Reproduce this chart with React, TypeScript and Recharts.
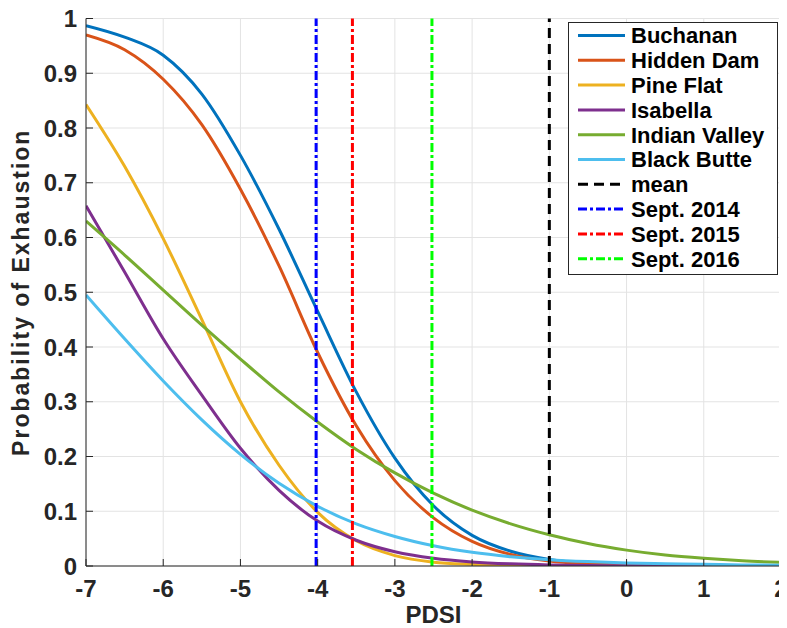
import React from 'react';
import { LineChart, Line, XAxis, YAxis, CartesianGrid, ReferenceLine, Legend } from 'recharts';

// PDSI sample points
const pdsi = [-7, -6.5, -6, -5.5, -5, -4.5, -4, -3.5, -3, -2.5, -2, -1.5, -1, -0.5, 0, 0.5, 1, 1.5, 2];

// Probability of exhaustion per reservoir
const buchanan = [0.987, 0.966, 0.933, 0.862, 0.75, 0.615, 0.465, 0.318, 0.197, 0.11, 0.056, 0.027, 0.012, 0.005, 0.002, 0.001, 0.0005, 0.0002, 0.0001];
const hiddenDam = [0.97, 0.943, 0.889, 0.806, 0.688, 0.548, 0.39, 0.256, 0.156, 0.088, 0.045, 0.021, 0.009, 0.004, 0.0015, 0.0006, 0.0002, 0.0001, 0];
const pineFlat = [0.843, 0.73, 0.598, 0.45, 0.3, 0.184, 0.098, 0.046, 0.019, 0.007, 0.003, 0.001, 0.0005, 0.0002, 0.0001, 0, 0, 0, 0];
const isabella = [0.658, 0.537, 0.415, 0.312, 0.215, 0.138, 0.082, 0.047, 0.026, 0.014, 0.0075, 0.004, 0.002, 0.001, 0.0005, 0.0003, 0.0002, 0.0001, 0];
const indianValley = [0.63, 0.568, 0.504, 0.44, 0.378, 0.318, 0.263, 0.213, 0.17, 0.133, 0.102, 0.077, 0.057, 0.041, 0.029, 0.02, 0.014, 0.0095, 0.0065];
const blackButte = [0.495, 0.415, 0.338, 0.267, 0.204, 0.151, 0.109, 0.077, 0.054, 0.037, 0.025, 0.017, 0.0115, 0.008, 0.0055, 0.004, 0.003, 0.002, 0.0015];

const seriesNames = ['Buchanan', 'Hidden Dam', 'Pine Flat', 'Isabella', 'Indian Valley', 'Black Butte'];
const seriesValues = [buchanan, hiddenDam, pineFlat, isabella, indianValley, blackButte];
const seriesColors = ['#0072BD', '#D95319', '#EDB120', '#7E2F8E', '#77AC30', '#4DBEEE'];

// Vertical reference lines
const markerNames = ['mean', 'Sept. 2014', 'Sept. 2015', 'Sept. 2016'];
const markerValues = [-1, -4.02, -3.55, -2.52];
const markerColors = ['#000000', '#0000FF', '#FF0000', '#00FF00'];
const markerDashes = ['10 6', '9 3 3 3', '9 3 3 3', '9 3 3 3'];

const xTicks = [-7, -6, -5, -4, -3, -2, -1, 0, 1, 2];
const yTicks = [0, 0.1, 0.2, 0.3, 0.4, 0.5, 0.6, 0.7, 0.8, 0.9, 1];

const data = pdsi.map((x, i) => {
  const row: Record<string, number> = { pdsi: x };
  seriesValues.forEach((vals, k) => {
    row['s' + k] = vals[i];
  });
  return row;
});

const FONT = "'Liberation Sans', Arial, Helvetica, sans-serif";
const AXIS = '#262626';
const TICK_LEN = 7;

const BottomTick = (props: any) => {
  const { x, y, payload } = props;
  return (
    <g>
      <line x1={x} x2={x} y1={y - 14} y2={y - 14 - TICK_LEN} stroke={AXIS} strokeWidth={1} />
      <text x={x} y={y} dy="0.71em" textAnchor="middle" fontFamily={FONT} fontSize={24} fontWeight="bold" fill={AXIS}>
        {String(payload.value)}
      </text>
    </g>
  );
};

const LeftTick = (props: any) => {
  const { x, y, payload } = props;
  return (
    <g>
      <line x1={x + 9} x2={x + 9 + TICK_LEN} y1={y} y2={y} stroke={AXIS} strokeWidth={1} />
      <text x={x} y={y} dy="0.36em" textAnchor="end" fontFamily={FONT} fontSize={24} fontWeight="bold" fill={AXIS}>
        {String(payload.value)}
      </text>
    </g>
  );
};

const TopTick = (props: any) => {
  const { x, y } = props;
  return <line x1={x} x2={x} y1={y} y2={y + TICK_LEN} stroke={AXIS} strokeWidth={1} />;
};

const RightTick = (props: any) => {
  const { x, y } = props;
  return <line x1={x} x2={x - TICK_LEN} y1={y} y2={y} stroke={AXIS} strokeWidth={1} />;
};

const legendNames = [...seriesNames, ...markerNames];
const legendColors = [...seriesColors, ...markerColors];
const legendDashes = [...seriesNames.map(() => ''), ...markerDashes];

const LegendBox = () => (
  <div
    style={{
      width: 210,
      height: 253,
      boxSizing: 'border-box',
      border: '1px solid ' + AXIS,
      background: '#ffffff',
    }}
  >
    <svg width={208} height={251} style={{ display: 'block' }}>
      {legendNames.map((name, i) => {
        const cy = 12.5 + 24.8 * i;
        return (
          <g key={name}>
            <line
              x1={9}
              x2={56}
              y1={cy}
              y2={cy}
              stroke={legendColors[i]}
              strokeWidth={3}
              strokeDasharray={legendDashes[i] || undefined}
            />
            <text x={62} y={cy} dy="0.36em" fontFamily={FONT} fontSize={22} fontWeight="bold" fill="#000">
              {name}
            </text>
          </g>
        );
      })}
    </svg>
  </div>
);

export default function App() {
  return (
    <div style={{ width: 779, height: 620 }}>
      <LineChart width={779} height={620} data={data} margin={{ top: 10.5, right: 6, bottom: 12, left: 0 }}>
        <CartesianGrid stroke="#e3e3e3" strokeWidth={1} verticalValues={xTicks} horizontalValues={yTicks} />
        <XAxis
          dataKey="pdsi"
          type="number"
          domain={[-7, 2]}
          ticks={xTicks}
          interval={0}
          allowDataOverflow
          height={50}
          tickSize={0}
          tickMargin={14}
          tickLine={false}
          axisLine={{ stroke: AXIS, strokeWidth: 1 }}
          tick={BottomTick}
          label={{
            content: (p: any) => {
              const vb = p.viewBox || {};
              return (
                <text
                  x={vb.x + vb.width / 2}
                  y={vb.y + 57}
                  textAnchor="middle"
                  fontFamily={FONT}
                  fontSize={24}
                  fontWeight="bold"
                  fill={AXIS}
                >
                  PDSI
                </text>
              );
            },
          }}
        />
        <XAxis
          xAxisId="top"
          orientation="top"
          type="number"
          domain={[-7, 2]}
          ticks={xTicks}
          interval={0}
          height={0}
          tickSize={0}
          tickMargin={0}
          tickLine={false}
          axisLine={{ stroke: AXIS, strokeWidth: 1 }}
          tick={TopTick}
        />
        <YAxis
          type="number"
          domain={[0, 1]}
          ticks={yTicks}
          interval={0}
          allowDataOverflow
          width={78}
          tickSize={0}
          tickMargin={9}
          tickLine={false}
          axisLine={{ stroke: AXIS, strokeWidth: 1 }}
          tick={LeftTick}
          label={{
            content: (p: any) => {
              const vb = p.viewBox || {};
              const cx = vb.x + 13;
              const cy = vb.y + vb.height / 2;
              return (
                <text
                  x={cx}
                  y={cy}
                  dy="0.36em"
                  transform={`rotate(-90, ${cx}, ${cy})`}
                  textAnchor="middle"
                  fontFamily={FONT}
                  fontSize={23}
                  fontWeight="bold"
                  letterSpacing={2}
                  fill={AXIS}
                >
                  Probability of Exhaustion
                </text>
              );
            },
          }}
        />
        <YAxis
          yAxisId="right"
          orientation="right"
          type="number"
          domain={[0, 1]}
          ticks={yTicks}
          interval={0}
          width={0}
          tickSize={0}
          tickMargin={0}
          tickLine={false}
          axisLine={{ stroke: AXIS, strokeWidth: 1 }}
          tick={RightTick}
        />
        {seriesNames.map((name, k) => (
          <Line
            key={name}
            name={name}
            dataKey={'s' + k}
            type="monotone"
            stroke={seriesColors[k]}
            strokeWidth={3}
            dot={false}
            activeDot={false}
            isAnimationActive={false}
          />
        ))}
        {markerNames.map((name, k) => (
          <ReferenceLine
            key={name}
            x={markerValues[k]}
            stroke={markerColors[k]}
            strokeWidth={3}
            strokeDasharray={markerDashes[k]}
          />
        ))}
        <Legend
          layout="vertical"
          align="center"
          verticalAlign="middle"
          wrapperStyle={{ left: 560, top: 14, width: 210, height: 253 }}
          content={() => <LegendBox />}
        />
      </LineChart>
    </div>
  );
}
